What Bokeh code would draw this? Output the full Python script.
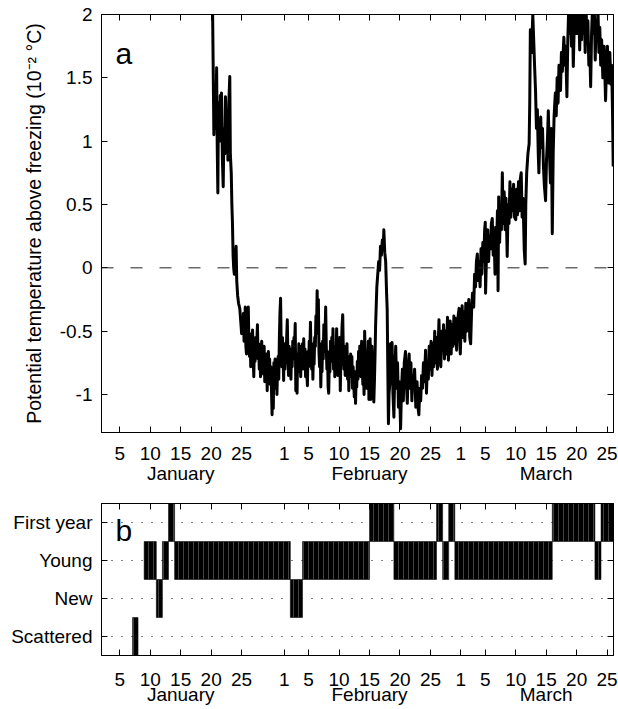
from bokeh.plotting import figure
from bokeh.models import Range1d, FixedTicker, LinearAxis, Span, Label, ColumnDataSource
from bokeh.layouts import column
from bokeh.embed import file_html
from bokeh.resources import INLINE

FONT = "Liberation Sans"

# ---------------- data ----------------
# day of year (1 = 1 January, leap year) and potential temperature above freezing (10^-2 degC)
# segment 1: warm onset and first drop (20 Jan - 24 Jan)
day_seg1 = [
    20.20, 20.45, 20.60, 20.75, 20.90, 21.00, 21.10, 21.20, 21.35, 21.50, 21.60, 21.70, 21.85, 21.98,
    22.10, 22.25, 22.35, 22.50, 22.65, 22.75, 22.90, 23.06, 23.15, 23.30, 23.40, 23.50, 23.60, 23.70,
    23.80, 23.95, 24.10, 24.20, 24.35, 24.50, 24.70,
]
val_seg1 = [
    2.20, 1.05, 1.45, 1.10, 1.58, 0.95, 0.59, 1.30, 1.02, 1.36, 1.00, 1.38, 0.85, 0.64,
    1.10, 0.90, 1.35, 0.95, 1.20, 0.85, 1.30, 1.51, 0.90, 0.75, 0.50, 0.35, 0.10, 0.00,
    -0.05, 0.05, 0.17, -0.10, -0.22, -0.28, -0.32,
]
# segment 2: supercooled band (25 Jan - 16 Feb)
day_seg2 = [
    24.9, 25.0, 25.1, 25.2, 25.3, 25.4, 25.5, 25.6, 25.7, 25.8,
    25.9, 26.0, 26.1, 26.2, 26.3, 26.4, 26.5, 26.6, 26.7, 26.8,
    26.9, 27.0, 27.1, 27.2, 27.3, 27.4, 27.5, 27.6, 27.7, 27.8,
    27.9, 28.0, 28.1, 28.2, 28.3, 28.4, 28.5, 28.6, 28.7, 28.8,
    28.9, 29.0, 29.1, 29.2, 29.3, 29.4, 29.5, 29.6, 29.7, 29.8,
    29.9, 30.0, 30.1, 30.2, 30.3, 30.4, 30.5, 30.6, 30.7, 30.8,
    30.9, 31.0, 31.1, 31.2, 31.3, 31.4, 31.5, 31.6, 31.7, 31.8,
    31.9, 32.0, 32.1, 32.2, 32.3, 32.4, 32.5, 32.6, 32.7, 32.8,
    32.9, 33.0, 33.1, 33.2, 33.3, 33.4, 33.5, 33.6, 33.7, 33.8,
    33.9, 34.0, 34.1, 34.2, 34.3, 34.4, 34.5, 34.6, 34.7, 34.8,
    34.9, 35.0, 35.1, 35.2, 35.3, 35.4, 35.5, 35.6, 35.7, 35.8,
    35.9, 36.0, 36.1, 36.2, 36.3, 36.4, 36.5, 36.6, 36.7, 36.8,
    36.9, 37.0, 37.1, 37.2, 37.3, 37.4, 37.5, 37.6, 37.7, 37.8,
    37.9, 38.0, 38.1, 38.2, 38.3, 38.4, 38.5, 38.6, 38.7, 38.8,
    38.9, 39.0, 39.1, 39.2, 39.3, 39.4, 39.5, 39.6, 39.7, 39.8,
    39.9, 40.0, 40.1, 40.2, 40.3, 40.4, 40.5, 40.6, 40.7, 40.8,
    40.9, 41.0, 41.1, 41.2, 41.3, 41.4, 41.5, 41.6, 41.7, 41.8,
    41.9, 42.0, 42.1, 42.2, 42.3, 42.4, 42.5, 42.6, 42.7, 42.8,
    42.9, 43.0, 43.1, 43.2, 43.3, 43.4, 43.5, 43.6, 43.7, 43.8,
    43.9, 44.0, 44.1, 44.2, 44.3, 44.4, 44.5, 44.6, 44.7, 44.8,
    44.9, 45.0, 45.1, 45.2, 45.3, 45.4, 45.5, 45.6, 45.7, 45.8,
    45.9, 46.0, 46.1, 46.2, 46.3, 46.4, 46.5, 46.6, 46.7, 46.8,
    46.9, 47.0,
]
val_seg2 = [
    -0.45, -0.52, -0.40, -0.50, -0.36, -0.58, -0.45, -0.31, -0.62, -0.68,
    -0.50, -0.38, -0.31, -0.62, -0.70, -0.55, -0.78, -0.52, -0.66, -0.49,
    -0.72, -0.86, -0.60, -0.74, -0.55, -0.70, -0.58, -0.45, -0.72, -0.60,
    -0.80, -0.62, -0.86, -0.66, -0.58, -0.80, -0.65, -0.84, -0.62, -0.90,
    -0.70, -0.82, -0.68, -0.97, -0.74, -0.66, -0.88, -0.72, -0.92, -0.78,
    -0.95, -1.16, -0.82, -1.11, -0.75, -0.92, -0.72, -0.95, -0.80, -1.00,
    -0.78, -0.70, -0.88, -0.55, -0.35, -0.24, -0.62, -0.78, -0.55, -0.70,
    -0.89, -0.60, -0.80, -0.62, -0.75, -0.55, -0.41, -0.70, -0.85, -0.62,
    -0.80, -0.66, -0.88, -0.64, -0.78, -0.58, -0.72, -0.55, -0.62, -0.44,
    -0.97, -0.75, -0.99, -0.68, -0.82, -0.60, -0.78, -0.62, -0.86, -0.66,
    -0.80, -0.60, -0.72, -0.56, -0.80, -0.64, -0.86, -0.70, -0.82, -0.93,
    -0.66, -0.78, -0.58, -0.70, -0.43, -0.68, -0.80, -0.60, -0.88, -0.66,
    -0.76, -0.55, -0.62, -0.38, -0.50, -0.18, -0.52, -0.25, -0.66, -0.78,
    -0.60, -0.94, -0.68, -0.82, -0.58, -0.72, -0.45, -0.66, -0.52, -0.31,
    -0.62, -0.80, -0.66, -0.94, -0.99, -0.70, -0.82, -0.58, -0.74, -0.55,
    -0.70, -0.48, -0.80, -0.64, -0.86, -0.62, -0.78, -0.48, -0.72, -0.85,
    -0.64, -0.78, -0.55, -0.97, -0.70, -0.60, -0.45, -0.37, -0.68, -0.80,
    -0.62, -0.85, -0.66, -0.78, -0.60, -0.88, -0.70, -0.97, -0.76, -0.86,
    -0.68, -0.82, -0.70, -0.95, -0.78, -0.90, -1.02, -0.82, -1.07, -0.86,
    -0.94, -0.74, -0.88, -0.66, -0.82, -0.62, -0.78, -0.86, -0.58, -0.76,
    -0.92, -0.80, -1.00, -0.50, -0.74, -0.88, -0.95, -0.66, -0.84, -0.58,
    -1.04, -0.72, -0.56, -1.04, -0.80, -0.62, -0.90, -0.70, -1.06, -0.90,
    -0.70, -0.45,
]
# segment 3: mid-February spike, second cold band and March warming
day_seg3 = [
    47.20, 47.35, 47.50, 47.65, 47.80, 47.95, 48.10, 48.25, 48.35, 48.50, 48.65, 48.80, 48.90, 49.00,
    49.10, 49.20, 49.35, 49.45, 49.60, 49.70, 49.85, 50.00, 50.15, 50.30, 50.45, 50.60, 50.75, 50.90,
    51.10, 51.25, 51.40, 51.55, 51.70, 51.90, 52.05, 52.20, 52.35, 52.50, 52.65, 52.80, 52.95, 53.10,
    53.25, 53.40, 53.60, 53.80, 54.00, 54.10, 54.25, 54.40, 54.55, 54.70, 54.85, 55.00, 55.20, 55.35,
    55.50, 55.65, 55.80, 55.95, 56.10, 56.25, 56.40, 56.55, 56.70, 56.85, 57.00, 57.15, 57.40, 57.55,
    57.70, 57.85, 58.00, 58.15, 58.30, 58.45, 58.60, 58.80, 58.95, 59.10, 59.25, 59.40, 59.55, 59.70,
    59.85, 60.00, 60.15, 60.30, 60.45, 60.70, 60.90, 61.05, 61.20, 61.35, 61.50, 61.65, 61.80, 61.95,
    62.10, 62.30, 62.45, 62.60, 62.75, 62.90, 63.10, 63.25, 63.40, 63.55, 63.70, 63.85, 64.00, 64.15,
    64.30, 64.45, 64.60, 64.75, 64.90, 65.00, 65.05, 65.20, 65.40, 65.55, 65.70, 65.85, 66.00, 66.15,
    66.30, 66.45, 66.60, 66.70, 66.85, 67.00, 67.10, 67.20, 67.35, 67.50, 67.65, 67.80, 67.95, 68.10,
    68.25, 68.40, 68.60, 68.75, 68.90, 69.05, 69.20, 69.35, 69.50, 69.65, 69.80, 70.00, 70.15, 70.30,
    70.45, 70.60, 70.75, 70.90, 71.05, 71.20, 71.40, 71.55, 71.65, 71.80, 72.00, 72.20, 72.30, 72.40,
    72.60, 72.80, 72.95, 73.10, 73.25, 73.40, 73.55, 73.70, 73.80, 73.95, 74.10, 74.25, 74.40, 74.55,
    74.70, 74.90, 75.05, 75.20, 75.35, 75.50, 75.70, 75.85, 76.00, 76.15, 76.30, 76.50, 76.65, 76.80,
    76.95, 77.10, 77.25, 77.35, 77.50, 77.65, 77.90, 78.05, 78.20, 78.40, 78.55, 78.70, 78.85, 79.00,
    79.15, 79.30, 79.45, 79.60, 79.75, 79.90, 80.05, 80.20, 80.35, 80.50, 80.65, 80.80, 80.95, 81.10,
    81.25, 81.40, 81.55, 81.70, 81.85, 82.00, 82.15, 82.30, 82.45, 82.60, 82.75, 82.90, 83.05, 83.20,
    83.35, 83.50, 83.65, 83.80, 83.95, 84.10, 84.30, 84.50, 84.75, 84.90, 85.05, 85.25, 85.45, 85.60,
    85.75, 85.90, 86.00,
]
val_seg3 = [
    -0.15, -0.05, 0.05, -0.02, 0.17, 0.10, 0.22, 0.15, 0.30, 0.12, 0.05, -0.20, -0.33, -0.80,
    -1.23, -1.00, -0.90, -0.60, -0.80, -0.59, -1.00, -1.18, -0.80, -0.62, -0.95, -0.75, -1.10, -0.90,
    -1.27, -0.95, -0.80, -1.05, -0.75, -0.66, -0.90, -1.07, -0.80, -0.68, -0.95, -0.75, -1.05, -0.85,
    -0.95, -0.80, -1.10, -0.90, -1.12, -1.16, -0.95, -1.05, -0.85, -0.95, -0.75, -0.90, -0.65, -0.99,
    -0.75, -0.88, -0.62, -0.80, -0.58, -0.85, -0.60, -0.78, -0.50, -0.75, -0.55, -0.80, -0.41, -0.70,
    -0.78, -0.50, -0.65, -0.45, -0.72, -0.50, -0.68, -0.39, -0.73, -0.55, -0.42, -0.68, -0.45, -0.62,
    -0.38, -0.60, -0.40, -0.65, -0.42, -0.32, -0.68, -0.45, -0.30, -0.55, -0.35, -0.58, -0.28, -0.50,
    -0.35, -0.25, -0.55, -0.60, -0.35, -0.20, -0.31, -0.05, -0.15, 0.05, 0.11, -0.10, 0.05, -0.15,
    0.15, -0.05, 0.20, 0.05, 0.30, 0.36, -0.20, 0.10, 0.30, 0.05, 0.25, 0.15, 0.35, 0.39,
    0.10, 0.25, -0.05, 0.32, 0.15, 0.45, -0.18, 0.56, 0.20, 0.45, 0.30, 0.75, 0.35, 0.60,
    0.30, 0.55, 0.09, 0.50, 0.35, 0.68, 0.40, 0.62, 0.45, 0.66, 0.40, 0.38, 0.62, 0.42,
    0.68, 0.45, 0.70, 0.75, 0.40, 0.55, 0.14, 0.03, 0.50, 0.75, 0.90, 0.98, 1.30, 1.88,
    1.70, 2.00, 1.80, 1.59, 1.40, 1.10, 1.25, 0.90, 0.75, 1.00, 1.19, 0.95, 1.10, 0.80,
    0.65, 0.53, 0.85, 1.00, 1.24, 0.95, 0.67, 1.10, 0.27, 0.90, 1.20, 1.38, 1.20, 1.50,
    1.30, 1.60, 1.45, 1.40, 1.70, 1.55, 1.82, 1.60, 1.75, 1.35, 1.80, 2.05, 1.85, 2.05,
    1.75, 2.05, 1.59, 1.90, 2.05, 1.85, 2.05, 1.85, 2.05, 1.72, 2.05, 1.80, 2.05, 1.85,
    2.05, 1.70, 2.05, 1.80, 1.95, 1.60, 1.75, 1.43, 1.85, 2.05, 1.85, 2.05, 1.64, 1.95,
    1.80, 2.05, 1.70, 1.90, 1.60, 1.80, 1.50, 1.75, 1.32, 1.60, 1.75, 1.46, 1.70, 1.45,
    1.60, 1.20, 0.80,
]
temp_day = day_seg1 + day_seg2 + day_seg3
temp_value = val_seg1 + val_seg2 + val_seg3

x_ticks = [5, 10, 15, 20, 25, 32, 36, 41, 46, 51, 56, 61, 65, 70, 75, 80, 85]
x_tick_labels = ["5", "10", "15", "20", "25", "1", "5", "10", "15", "20", "25",
                 "1", "5", "10", "15", "20", "25"]
month_ticks = [15, 46, 75]
month_labels = ["January", "February", "March"]
y_ticks = [-1, -0.5, 0, 0.5, 1, 1.5, 2]
y_tick_labels = ["-1", "-0.5", "0", "0.5", "1", "1.5", "2"]

ice_categories = ["Scattered", "New", "Young", "First year"]
ice_start = [7.1, 9, 11, 12, 13, 14, 33, 35, 46, 50, 57, 58, 59, 60, 76, 83, 84]
ice_end = [8, 11, 12, 13, 14, 33, 35, 46, 50, 57, 58, 59, 60, 76, 83, 84, 86.05]
ice_type = ["Scattered", "Young", "New", "Young", "First year", "Young", "New", "Young",
            "First year", "Young", "First year", "Young", "First year", "Young",
            "First year", "Young", "First year"]

X_MIN, X_MAX = 2, 86.05

# ---------------- helpers ----------------
TICK_FS = "19px"


def style_axis(ax, ticks, labels, standoff):
    ax.ticker = FixedTicker(ticks=ticks)
    ax.major_label_overrides = {t: l for t, l in zip(ticks, labels)}
    ax.major_tick_in = 6
    ax.major_tick_out = 0
    ax.minor_tick_in = 0
    ax.minor_tick_out = 0
    ax.axis_line_color = "black"
    ax.major_tick_line_color = "black"
    ax.major_label_text_font = FONT
    ax.major_label_text_font_size = TICK_FS
    ax.major_label_text_color = "black"
    ax.major_label_standoff = standoff


def mirror_axis(ticks):
    ax = LinearAxis()
    style_axis(ax, ticks, [""] * len(ticks), 0)
    return ax


def month_axis(standoff):
    ax = LinearAxis()
    style_axis(ax, month_ticks, month_labels, standoff)
    ax.major_tick_in = 0
    ax.axis_line_color = None
    ax.major_tick_line_color = None
    return ax


# ---------------- panel a ----------------
p1 = figure(width=618, height=489, output_backend="svg", toolbar_location=None,
            x_range=Range1d(X_MIN, X_MAX), y_range=Range1d(-1.3, 2.0),
            min_border_left=101, min_border_right=5, min_border_top=14, min_border_bottom=57)
p1.outline_line_color = "black"
p1.outline_line_width = 1
p1.grid.visible = False
p1.background_fill_color = "white"
p1.border_fill_color = "white"

style_axis(p1.xaxis[0], x_ticks, x_tick_labels, 14)
style_axis(p1.yaxis[0], y_ticks, y_tick_labels, 9)
p1.yaxis[0].axis_label = "Potential temperature above freezing (10\u207b\u00b2 \u00b0C)"
p1.yaxis[0].axis_label_text_font = FONT
p1.yaxis[0].axis_label_text_font_size = "19.5px"
p1.yaxis[0].axis_label_text_font_style = "normal"
p1.yaxis[0].axis_label_text_color = "black"
p1.yaxis[0].axis_label_standoff = 12
p1.add_layout(month_axis(0), "below")
p1.add_layout(mirror_axis(x_ticks), "above")
p1.add_layout(mirror_axis(y_ticks), "right")

p1.add_layout(Span(location=0, dimension="width", line_color="#222222",
                   line_width=1, line_dash="12 17"))

src = ColumnDataSource(data=dict(x=temp_day, y=temp_value))
p1.line("x", "y", source=src, line_color="black", line_width=3.0, line_join="round")

p1.add_layout(Label(x=4.3, y=1.69, text="a", text_font=FONT, text_font_size="30px",
                    text_baseline="alphabetic", text_color="black"))

# ---------------- panel b ----------------
cat_index = {c: i + 1 for i, c in enumerate(ice_categories)}
ice_level = [cat_index[t] for t in ice_type]
ice_src = ColumnDataSource(data=dict(
    left=ice_start, right=ice_end,
    bottom=[v - 0.5 for v in ice_level], top=[v + 0.5 for v in ice_level]))

p2 = figure(width=618, height=220, output_backend="svg", toolbar_location=None,
            x_range=Range1d(X_MIN, X_MAX), y_range=Range1d(0.5, 4.5),
            min_border_left=101, min_border_right=5, min_border_top=14, min_border_bottom=54)
p2.outline_line_color = "black"
p2.outline_line_width = 1
p2.xgrid.visible = False
p2.ygrid.ticker = FixedTicker(ticks=[1, 2, 3, 4])
p2.ygrid.grid_line_color = "black"
p2.ygrid.grid_line_dash = "1 9"
p2.ygrid.grid_line_width = 1

style_axis(p2.xaxis[0], x_ticks, x_tick_labels, 17)
style_axis(p2.yaxis[0], [1, 2, 3, 4], ice_categories, 9)
p2.add_layout(month_axis(-5), "below")
p2.add_layout(mirror_axis(x_ticks), "above")
p2.add_layout(mirror_axis([1, 2, 3, 4]), "right")

p2.quad(left="left", right="right", bottom="bottom", top="top", source=ice_src,
        fill_color="black", line_color="black", line_width=0.5,
        hatch_pattern="|", hatch_color="#7a7a7a", hatch_weight=0.6, hatch_scale=5,
        hatch_alpha=0.9)

p2.add_layout(Label(x=4.3, y=3.79, text="b", text_font=FONT, text_font_size="30px",
                    text_baseline="alphabetic", text_color="black"))

layout = column(p1, p2, spacing=0)

with open("out.html", "w") as f:
    f.write(file_html(layout, INLINE))
